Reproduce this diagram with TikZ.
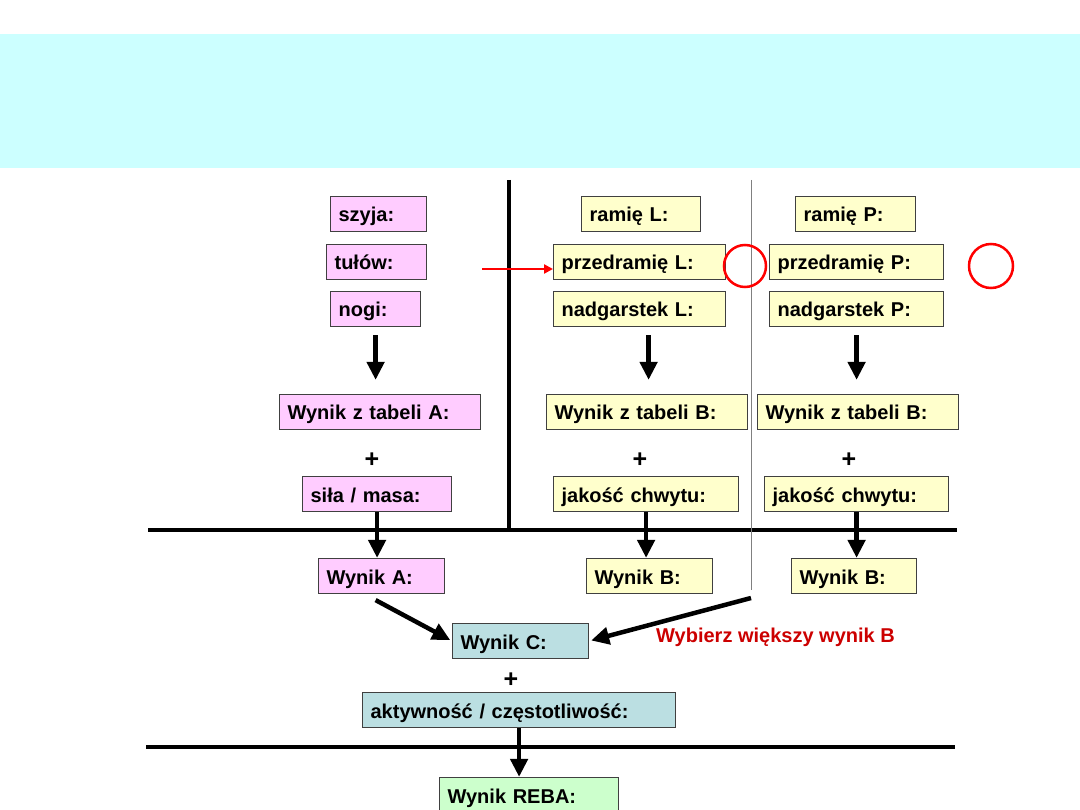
\documentclass[tikz,border=0pt]{standalone}
\usepackage{fontspec}
\setmainfont{Liberation Sans}
\usetikzlibrary{arrows.meta}
\definecolor{bandcyan}{HTML}{CCFFFF}
\definecolor{pinkfill}{HTML}{FFCCFF}
\definecolor{yellowfill}{HTML}{FFFFCC}
\definecolor{tealfill}{HTML}{BBDFE2}
\definecolor{greenfill}{HTML}{CCFFCC}
\definecolor{darkred}{HTML}{CC0000}
\begin{document}
\begin{tikzpicture}[x=1pt, y=-1pt,
    font=\fontsize{20}{23}\selectfont\bfseries,
    box/.style={draw=black!75, line width=1.2pt, inner xsep=8pt, inner ysep=2pt,
      minimum height=35pt, text height=18pt, text depth=2pt, align=left, anchor=west},
    pinkbox/.style={box, fill=pinkfill},
    yellowbox/.style={box, fill=yellowfill},
    tealbox/.style={box, fill=tealfill},
    greenbox/.style={box, fill=greenfill},
    plus/.style={font=\fontsize{25}{25}\selectfont\bfseries, inner sep=0pt},
    flow/.style={line width=4.5pt, -{Triangle[length=18pt,width=17pt]}},
    redarrow/.style={draw=red, line width=2.5pt, -{Triangle[length=9pt,width=9pt]}},
    ring/.style={draw=red, line width=2.5pt, circle, minimum size=42pt, inner sep=0pt}]
    \useasboundingbox (0,0) rectangle (1080,810);
    \fill[white] (0,0) rectangle (1080,810);
    \fill[bandcyan] (0,34) rectangle (1080,168);

    % separating lines
    \draw[line width=4.5pt] (148,530) -- (957,530);
    \draw[line width=4.5pt] (146,747) -- (955,747);
    \draw[line width=4pt] (509,180) -- (509,530);
    \draw[gray, line width=1pt] (751,180) -- (751,590);

    % group A: szyja, tulow, nogi
    \node[pinkbox, text width=80pt] (szyja) at (330,214) {szyja:};
    \node[pinkbox, text width=84pt] (tulow) at (326,262) {tułów:};
    \node[pinkbox, text width=74pt] (nogi) at (330,309) {nogi:};
    \node[pinkbox, text width=185pt] (tabA) at (279,412) {Wynik z tabeli A:};
    \node[plus] (plusA) at (372,460) {+};
    \node[pinkbox, text width=133pt] (sila) at (302,494) {siła / masa:};
    \node[pinkbox, text width=110pt] (wynA) at (318,576) {Wynik A:};

    % group B: lewa strona
    \node[yellowbox, text width=103pt] (ramL) at (581,214) {ramię L:};
    \node[yellowbox, text width=156pt] (przL) at (553,262) {przedramię L:};
    \node[yellowbox, text width=156pt] (nadL) at (553,309) {nadgarstek L:};
    \node[yellowbox, text width=185pt] (tabBL) at (546,412) {Wynik z tabeli B:};
    \node[plus] (plusL) at (640,460) {+};
    \node[yellowbox, text width=169pt] (chwL) at (553,494) {jakość chwytu:};
    \node[yellowbox, text width=110pt] (wynBL) at (586,576) {Wynik B:};

    % group B: prawa strona
    \node[yellowbox, text width=104pt] (ramP) at (795,214) {ramię P:};
    \node[yellowbox, text width=158pt] (przP) at (769,262) {przedramię P:};
    \node[yellowbox, text width=158pt] (nadP) at (769,309) {nadgarstek P:};
    \node[yellowbox, text width=185pt] (tabBP) at (757,412) {Wynik z tabeli B:};
    \node[plus] (plusP) at (849,460) {+};
    \node[yellowbox, text width=168pt] (chwP) at (764,494) {jakość chwytu:};
    \node[yellowbox, text width=109pt] (wynBP) at (791,576) {Wynik B:};

    % markers
    \node[ring] (okL) at (745,266) {};
    \node[ring, minimum size=44pt] (okP) at (991,266) {};
    \coordinate (strzalka) at (482,269);
    \draw[redarrow] (strzalka) -- ([yshift=-7pt]przL.west);

    % wynik C and REBA
    \node[tealbox, text width=120pt] (wynC) at (452,641) {Wynik C:};
    \node[text=darkred, anchor=west, inner sep=0pt] (wybierz) at (656,637) {Wybierz większy wynik B};
    \node[plus] (plusC) at (511,680) {+};
    \node[tealbox, text width=297pt] (aktyw) at (362,710) {aktywność / częstotliwość:};
    \node[greenbox, text width=163pt] (reba) at (439,795) {Wynik REBA:};

    % arrows
    \coordinate (dL) at ([xshift=9pt]nadL.south);
    \draw[flow, shorten <=8pt, shorten >=14pt] (nogi.south) -- (nogi.south |- tabA.north);
    \draw[flow, shorten <=8pt, shorten >=14pt] (dL) -- (dL |- tabBL.north);
    \draw[flow, shorten <=8pt, shorten >=14pt] (nadP.south) -- (nadP.south |- tabBP.north);
    \draw[flow] (sila.south) -- (sila.south |- wynA.north);
    \draw[flow] (chwL.south) -- (chwL.south |- wynBL.north);
    \draw[flow] (chwP.south) -- (chwP.south |- wynBP.north);
    \draw[flow] (aktyw.south) -- (aktyw.south |- reba.north);
    \coordinate (linia) at (751,598);
    \draw[flow, shorten >=2pt] ([xshift=-6pt,yshift=-6pt]wynA.south) -- (wynC.west);
    \draw[flow, shorten >=2pt] (linia) -- (wynC.east);
\end{tikzpicture}
\end{document}
